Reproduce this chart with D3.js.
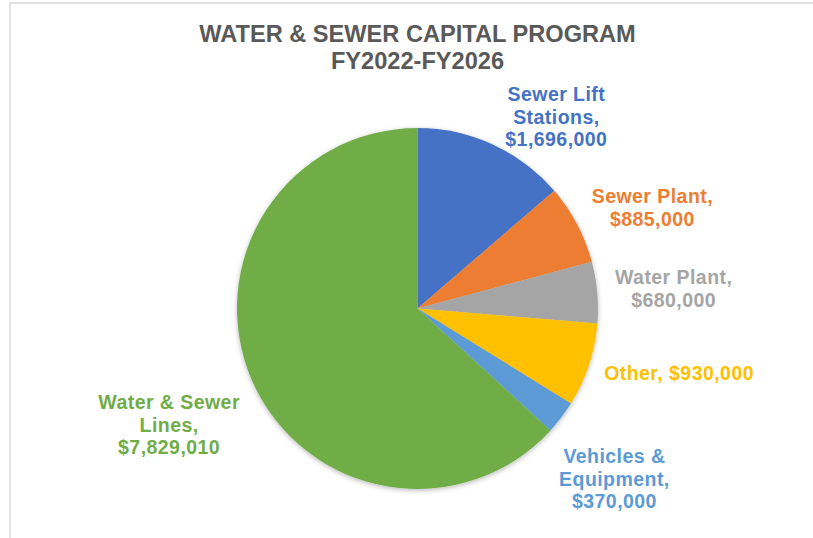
<!DOCTYPE html>
<html>
<head>
<meta charset="utf-8">
<script src="https://cdn.jsdelivr.net/npm/d3@7"></script>
<style>
  html, body { margin: 0; padding: 0; background: #fff; }
  svg { display: block; font-family: "Liberation Sans", Arial, sans-serif; }
</style>
</head>
<body>
<svg id="chart" width="813" height="538"></svg>
<script>
// Capital program by category, FY2022-FY2026 (dollars)
const categories = [
  "Sewer Lift Stations",
  "Sewer Plant",
  "Water Plant",
  "Other",
  "Vehicles & Equipment",
  "Water & Sewer Lines"
];
const amounts = [1696000, 885000, 680000, 930000, 370000, 7829010];

// How each category name wraps in its data label
const labelNameLines = [
  ["Sewer Lift", "Stations,"],
  ["Sewer Plant,"],
  ["Water Plant,"],
  ["Other,"],
  ["Vehicles &", "Equipment,"],
  ["Water & Sewer", "Lines,"]
];
// Labels whose name and value share one line
const singleLineLabels = ["Other"];

const titleLines = ["WATER & SEWER CAPITAL PROGRAM", "FY2022-FY2026"];

// ---- styling & layout ----
const colors = ["#4472C4", "#ED7D31", "#A5A5A5", "#FFC000", "#5B9BD5", "#70AD47"];
const W = 813, H = 538;
const cx = 417.5, cy = 308.5, radius = 180.5;
const labelFont = 19.5, labelSpacing = 0.45, lineH = 22.5;
const labelGap = 20;
// small collision-avoidance shifts for the outside labels
const labelShift = {
  "Sewer Lift Stations": [34, 21],
  "Sewer Plant": [4, 3],
  "Water Plant": [-2, 0],
  "Other": [0, -2],
  "Vehicles & Equipment": [-7, 29],
  "Water & Sewer Lines": [0, 22]
};

const svg = d3.select("#chart");
const fmt = d3.format("$,");

// chart area frame
svg.append("rect")
  .attr("x", 10).attr("y", 3)
  .attr("width", W + 20).attr("height", H + 20)
  .attr("fill", "#fff")
  .attr("stroke", "#d9d9d9").attr("stroke-width", 1.5);

// soft shadow under the pie
const defs = svg.append("defs");
const f = defs.append("filter").attr("id", "pieShadow")
  .attr("x", "-20%").attr("y", "-20%").attr("width", "140%").attr("height", "140%");
f.append("feDropShadow")
  .attr("dx", 0).attr("dy", 1.5).attr("stdDeviation", 2.5)
  .attr("flood-color", "#000").attr("flood-opacity", 0.28);

// title
svg.append("text")
  .attr("x", cx).attr("text-anchor", "middle")
  .attr("fill", "#595959").attr("font-weight", "bold").attr("font-size", 23.6)
  .selectAll("tspan").data(titleLines).join("tspan")
  .attr("x", cx).attr("y", (d, i) => 41.5 + i * 27.5)
  .text(d => d);

// pie
const data = categories.map((c, i) => ({ name: c, value: amounts[i], color: colors[i], lines: labelNameLines[i] }));
const pie = d3.pie().value(d => d.value).sort(null);
const arcs = pie(data);
const arc = d3.arc().innerRadius(0).outerRadius(radius);

const g = svg.append("g").attr("transform", `translate(${cx},${cy})`);
g.append("g").attr("filter", "url(#pieShadow)")
  .selectAll("path").data(arcs).join("path")
  .attr("d", arc)
  .attr("fill", d => d.data.color);

// data labels, placed outside each slice along its mid-angle
const labels = g.append("g").selectAll("text").data(arcs).join("text")
  .attr("text-anchor", "middle")
  .attr("font-weight", "bold")
  .attr("font-size", labelFont)
  .attr("letter-spacing", labelSpacing)
  .attr("fill", d => d.data.color);

labels.each(function (d) {
  const t = d3.select(this);
  const valueText = fmt(d.data.value);
  const lines = singleLineLabels.includes(d.data.name)
    ? [d.data.lines.join(" ") + " " + valueText]
    : d.data.lines.concat([valueText]);
  t.selectAll("tspan").data(lines).join("tspan").text(s => s);
  const widths = [];
  t.selectAll("tspan").each(function () { widths.push(this.getComputedTextLength()); });
  const w = d3.max(widths), h = lines.length * lineH;
  const mid = (d.startAngle + d.endAngle) / 2;
  const [bx, by] = d3.pointRadial(mid, radius + labelGap);
  const shift = labelShift[d.data.name] || [0, 0];
  const lx = bx + Math.sin(mid) * w / 2 + shift[0];
  const ly = by - Math.cos(mid) * h / 2 + shift[1];
  const firstBase = ly - (lines.length - 1) * lineH / 2 + labelFont * 0.358;
  t.selectAll("tspan")
    .attr("x", lx)
    .attr("y", (s, i) => firstBase + i * lineH);
});
</script>
</body>
</html>
